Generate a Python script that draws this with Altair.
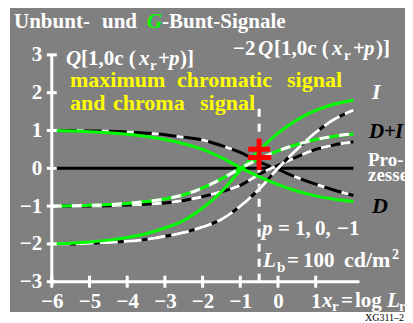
import altair as alt
import pandas as pd

# ---------------- data ----------------
X_VALUES = [-6, -5.5, -5, -4.5, -4, -3.5, -3, -2.5, -2, -1.5, -1, -0.5, 0, 0.5, 1, 1.5, 2]

GREEN_I  = [-2.0, -1.98, -1.95, -1.9, -1.83, -1.73, -1.58, -1.38, -1.05, -0.62, -0.05, 0.47, 0.93, 1.28, 1.53, 1.7, 1.8]
GREEN_D  = [1.0, 0.99, 0.97, 0.94, 0.9, 0.84, 0.76, 0.65, 0.5, 0.28, 0.02, -0.22, -0.43, -0.6, -0.73, -0.82, -0.88]
GREEN_DI = [-1.0, -0.99, -0.98, -0.96, -0.93, -0.88, -0.81, -0.7, -0.52, -0.28, 0.0, 0.25, 0.46, 0.63, 0.76, 0.85, 0.91]

BLACK_I  = [-2.0, -2.0, -1.98, -1.96, -1.93, -1.88, -1.8, -1.7, -1.55, -1.35, -1.0, -0.55, 0.0, 0.5, 0.95, 1.3, 1.54]
BLACK_D  = [1.0, 1.0, 0.99, 0.98, 0.96, 0.93, 0.89, 0.82, 0.75, 0.6, 0.42, 0.17, -0.03, -0.24, -0.42, -0.58, -0.72]
BLACK_DI = [-1.0, -1.0, -1.0, -0.99, -0.97, -0.95, -0.92, -0.85, -0.75, -0.62, -0.45, -0.16, 0.08, 0.3, 0.5, 0.62, 0.7]

ZERO_LINE_X = [-6, 2]
ZERO_LINE_Y = [0, 0]

X_TICKS = [-6, -5, -4, -3, -2, -1, 0, 1]
Y_TICKS = [-3, -2, -1, 0, 1, 2, 3]
X_AXIS_END = 2.16
Y_AXIS_END = 3.03

MARK_X = -0.5          # vertical dashed line and red cross
MARK_LINE_TOP = 1.62
CROSS_V = (-0.045, 0.79)
CROSS_H = [(0.505, -0.79, -0.21), (0.286, -0.80, -0.18)]

# ---------------- layout ----------------
PX_X0, PX_PER_X = 51.8, 37.7      # page px of x=-6, px per unit
PX_Y0, PX_PER_Y = 168.3, 37.8     # page px of y=0, px per unit
LEFT, TOP, RIGHT, BOTTOM = 10, 8, 405, 312

XMIN = -6 + (LEFT - PX_X0) / PX_PER_X
XMAX = -6 + (RIGHT - PX_X0) / PX_PER_X
YMAX = (PX_Y0 - TOP) / PX_PER_Y
YMIN = (PX_Y0 - BOTTOM) / PX_PER_Y


def dx(px):
    return -6 + (px - PX_X0) / PX_PER_X


def dy(py):
    return (PX_Y0 - py) / PX_PER_Y


FONT = "Liberation Serif, Times New Roman, Times, DejaVu Serif, serif"
GRAY = "#808080"
GREEN = "#00ff00"
WHITE = "#ffffff"
BLACK = "#000000"
YELLOW = "#ffff00"
RED = "#ff0000"

xs = alt.Scale(domain=[XMIN, XMAX], nice=False, zero=False)
ys = alt.Scale(domain=[YMIN, YMAX], nice=False, zero=False)

x_axis = alt.Axis(values=X_TICKS, offset=-(BOTTOM - (PX_Y0 + 3 * PX_PER_Y)), domain=False, ticks=False,
                  grid=False, labelFont=FONT, labelFontWeight="bold", labelFontSize=21,
                  labelColor=WHITE, labelPadding=9, labelOverlap=False, labelFlush=False, title=None)
y_axis = alt.Axis(values=Y_TICKS, offset=-(PX_X0 - LEFT), domain=False, ticks=False,
                  grid=False, labelFont=FONT, labelFontWeight="bold", labelFontSize=21,
                  labelColor=WHITE, labelPadding=10, labelOverlap=False, labelFlush=False, title=None)


def X(field="x"):
    return alt.X(f"{field}:Q", scale=xs, axis=x_axis)


def Y(field="y"):
    return alt.Y(f"{field}:Q", scale=ys, axis=y_axis)


def series_df(values, name):
    return pd.DataFrame({"x": X_VALUES, "y": values, "s": name})


def line(values, name, color, dash=None, width=3):
    kw = dict(color=color, strokeWidth=width, interpolate="monotone", clip=False)
    if dash:
        kw["strokeDash"] = dash
    return alt.Chart(series_df(values, name)).mark_line(**kw).encode(x=X(), y=Y())


layers = []

# zero line
layers.append(alt.Chart(pd.DataFrame({"x": ZERO_LINE_X, "y": ZERO_LINE_Y})).mark_line(
    color=BLACK, strokeWidth=3).encode(x=X(), y=Y()))

# vertical dashed white line
layers.append(alt.Chart(pd.DataFrame({"x": [MARK_X], "y": [-3], "y2": [MARK_LINE_TOP]})).mark_rule(
    color=WHITE, strokeWidth=3, strokeDash=[8, 7]).encode(x=X(), y=Y(), y2="y2:Q"))

# black / white dashed curves
layers.append(line(BLACK_D, "D", BLACK))
layers.append(line(BLACK_D, "D", WHITE, dash=[7, 18]))
layers.append(line(BLACK_DI, "D+I", BLACK))
layers.append(line(BLACK_DI, "D+I", WHITE, dash=[10, 10]))
layers.append(line(BLACK_I, "I", BLACK))
layers.append(line(BLACK_I, "I", WHITE, dash=[18, 6]))

# green curves
layers.append(line(GREEN_D, "D", GREEN))
layers.append(line(GREEN_I, "I", GREEN))
layers.append(line(GREEN_DI, "D+I", GREEN))
layers.append(line(GREEN_DI, "D+I", WHITE, dash=[10, 10]))

# axes lines
layers.append(alt.Chart(pd.DataFrame({"x": [-6.04], "x2": [X_AXIS_END], "y": [-3]})).mark_rule(
    color=WHITE, strokeWidth=3).encode(x=X(), x2="x2:Q", y=Y()))
layers.append(alt.Chart(pd.DataFrame({"x": [-6], "y": [-3], "y2": [Y_AXIS_END]})).mark_rule(
    color=WHITE, strokeWidth=3).encode(x=X(), y=Y(), y2="y2:Q"))
layers.append(alt.Chart(pd.DataFrame({"x": X_TICKS, "y": [-3] * len(X_TICKS)})).mark_tick(
    orient="vertical", color=WHITE, size=12, thickness=3, opacity=1).encode(x=X(), y=Y()))
layers.append(alt.Chart(pd.DataFrame({"x": [-6] * len(Y_TICKS), "y": Y_TICKS})).mark_tick(
    orient="horizontal", color=WHITE, size=10, thickness=3, opacity=1).encode(x=X(), y=Y()))

# red cross
layers.append(alt.Chart(pd.DataFrame({"x": [MARK_X], "y": [CROSS_V[0]], "y2": [CROSS_V[1]]})).mark_rule(
    color=RED, strokeWidth=5).encode(x=X(), y=Y(), y2="y2:Q"))
layers.append(alt.Chart(pd.DataFrame({"y": [c[0] for c in CROSS_H], "x": [c[1] for c in CROSS_H],
                                      "x2": [c[2] for c in CROSS_H]})).mark_rule(
    color=RED, strokeWidth=5).encode(x=X(), x2="x2:Q", y=Y()))

# ---------------- texts (page px positions, baseline) ----------------
TEXTS = [
    ("Unbunt-", 14, 28, 21, WHITE, False),
    ("und", 102, 28, 21, WHITE, False),
    ("G", 147, 28, 21, GREEN, True),
    ("-Bunt-Signale", 162, 28, 21, WHITE, False),
    ("Q", 66, 65, 21, WHITE, True),
    ("[1,0c (", 81, 65, 21, WHITE, False),
    ("x", 139, 65, 21, WHITE, True),
    ("r", 150, 70, 15, WHITE, False),
    ("+", 158, 65, 21, WHITE, False),
    ("p", 169, 65, 21, WHITE, True),
    (")]", 180, 65, 21, WHITE, False),
    ("\u22122", 233, 55, 21, WHITE, False),
    ("Q", 258, 55, 21, WHITE, True),
    ("[1,0c (", 274, 55, 21, WHITE, False),
    ("x", 332, 55, 21, WHITE, True),
    ("r", 344, 60, 15, WHITE, False),
    ("+", 353, 55, 21, WHITE, False),
    ("p", 364, 55, 21, WHITE, True),
    (")]", 376, 55, 21, WHITE, False),
    ("maximum", 70, 87, 22, YELLOW, False),
    ("chromatic", 177, 87, 22, YELLOW, False),
    ("signal", 287, 87, 22, YELLOW, False),
    ("and", 70, 110, 22, YELLOW, False),
    ("chroma", 113, 110, 22, YELLOW, False),
    ("signal", 200, 110, 22, YELLOW, False),
    ("I", 372, 99, 22, WHITE, True),
    ("D", 369, 138, 21, BLACK, True),
    ("+", 384, 138, 21, BLACK, False),
    ("I", 395, 138, 21, BLACK, True),
    ("Pro-", 368, 166, 19, WHITE, False),
    ("zesse", 368, 181, 19, WHITE, False),
    ("D", 372, 213, 22, BLACK, True),
    ("p", 262, 235, 21, WHITE, True),
    ("=", 278, 235, 21, WHITE, False),
    ("1,", 295, 235, 21, WHITE, False),
    ("0,", 315, 235, 21, WHITE, False),
    ("\u22121", 337, 235, 21, WHITE, False),
    ("L", 263, 267, 21, WHITE, True),
    ("b", 277, 272, 15, WHITE, False),
    ("=", 287, 267, 21, WHITE, False),
    ("100", 303, 267, 21, WHITE, False),
    ("cd/m", 344, 267, 22, WHITE, False),
    ("2", 392, 259, 14, WHITE, False),
    ("x", 322, 307, 21, WHITE, True),
    ("r", 332, 311, 15, WHITE, False),
    ("=", 341, 307, 21, WHITE, False),
    ("log", 355, 307, 21, WHITE, False),
    ("L", 387, 307, 21, WHITE, True),
    ("r", 399, 311, 15, WHITE, False),
]

tdf = pd.DataFrame([{"t": t, "x": dx(px), "y": dy(py), "size": s, "c": c, "it": it}
                    for (t, px, py, s, c, it) in TEXTS])

for italic in (False, True):
    sub = tdf[tdf["it"] == italic]
    layers.append(alt.Chart(sub).mark_text(
        align="left", baseline="alphabetic", font=FONT, fontWeight="bold",
        fontStyle="italic" if italic else "normal").encode(
        x=X(), y=Y(), text="t:N",
        color=alt.Color("c:N", scale=None),
        size=alt.Size("size:Q", scale=None)))

# figure id below the gray area
layers.append(alt.Chart(pd.DataFrame({"t": ["XG311\u20132"], "x": [dx(365)], "y": [dy(321)]})).mark_text(
    align="left", baseline="alphabetic", font=FONT, fontSize=10, color=BLACK).encode(
    x=X(), y=Y(), text="t:N"))

chart = alt.layer(*layers).properties(
    width=RIGHT - LEFT,
    height=BOTTOM - TOP,
    autosize=alt.AutoSizeParams(type="none"),
    padding={"left": LEFT - 8, "top": TOP - 8, "right": 0, "bottom": 11},
    background="white",
).configure_view(fill=GRAY, strokeWidth=0)

chart.save("out.html", embed_options={"renderer": "svg", "actions": False})
